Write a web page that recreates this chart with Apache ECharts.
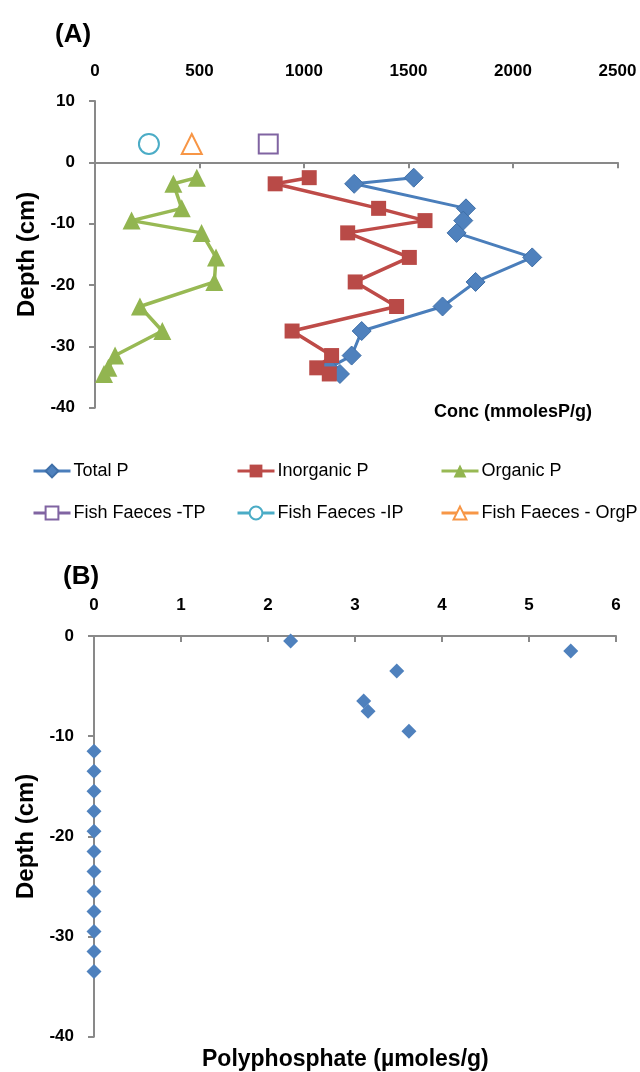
<!DOCTYPE html>
<html>
<head>
<meta charset="utf-8">
<script src="https://cdn.jsdelivr.net/npm/echarts@6/dist/echarts.min.js"></script>
<style>
html,body{margin:0;padding:0;background:#fff;}
#c{width:640px;height:1072px;}
</style>
</head>
<body>
<div id="c"></div>
<script>
// ---- Data: panel (A) ----
var depthA = [-2.5, -3.5, -7.5, -9.5, -11.5, -15.5, -19.5, -23.5, -27.5, -31.5, -33.5, -34.5];
var totalP = [1525, 1240, 1775, 1762, 1730, 2092, 1821, 1663, 1276, 1228, 1120, 1172];
var inorganicP = [1025, 862, 1357, 1579, 1209, 1504, 1245, 1443, 943, 1132, 1061, 1121];
var organicP = [487, 375, 415, 175, 510, 579, 571, 215, 322, 96, 64, 43];
var faecesDepth = 3;
var faecesTP = 829;
var faecesIP = 258;
var faecesOrgP = 463;
var seriesNamesA = ['Total P', 'Inorganic P', 'Organic P', 'Fish Faeces -TP', 'Fish Faeces -IP', 'Fish Faeces - OrgP'];

// ---- Data: panel (B) ----
var depthB = [-0.5, -1.5, -3.5, -6.5, -7.5, -9.5, -11.5, -13.5, -15.5, -17.5, -19.5, -21.5, -23.5, -25.5, -27.5, -29.5, -31.5, -33.5];
var polyP = [2.26, 5.48, 3.48, 3.10, 3.15, 3.62, 0, 0, 0, 0, 0, 0, 0, 0, 0, 0, 0, 0];

function pairs(xs, ys) { return xs.map(function (x, i) { return [x, ys[i]]; }); }
function plain(v) { return String(v); }

var axisGray = '#898989';
var FONT = 'Liberation Sans';
var tickFont = { fontFamily: FONT, fontWeight: 'bold', fontSize: 17, color: '#000', formatter: plain };

var chart = echarts.init(document.getElementById('c'), null, { renderer: 'canvas' });

function legendCol(left, names) {
  return { orient: 'vertical', left: left, top: 462, padding: 0, itemWidth: 37, itemHeight: 16, itemGap: 24,
    data: names, lineStyle: { width: 3 },
    textStyle: { fontFamily: FONT, fontSize: 18, color: '#000', padding: [0, 0, 0, -2] } };
}

var option = {
  animation: false,
  backgroundColor: '#fff',
  title: [
    { text: '(A)', left: 50, top: 17, textStyle: { fontFamily: FONT, fontWeight: 'bold', fontSize: 26, color: '#000' } },
    { text: 'Conc (mmolesP/g)', left: 429, top: 398, textStyle: { fontFamily: FONT, fontWeight: 'bold', fontSize: 18, color: '#000' } },
    { text: '(B)', left: 58, top: 559, textStyle: { fontFamily: FONT, fontWeight: 'bold', fontSize: 26, color: '#000' } },
    { text: 'Polyphosphate (µmoles/g)', left: 197, top: 1043, textStyle: { fontFamily: FONT, fontWeight: 'bold', fontSize: 23, color: '#000' } }
  ],
  legend: [
    legendCol(32, [seriesNamesA[0], seriesNamesA[3]]),
    legendCol(236, [seriesNamesA[1], seriesNamesA[4]]),
    legendCol(440, [seriesNamesA[2], seriesNamesA[5]])
  ],
  grid: [
    { left: 95, top: 101, width: 522.5, height: 306.7, containLabel: false },
    { left: 94, top: 636, width: 522, height: 400.7, containLabel: false }
  ],
  xAxis: [
    { // A: labels on top
      type: 'value', gridIndex: 0, position: 'top', min: 0, max: 2500, interval: 500,
      axisLine: { show: false, onZero: false }, axisTick: { show: false }, splitLine: { show: false },
      axisLabel: Object.assign({ margin: 21 }, tickFont)
    },
    { // A: axis line crossing at depth 0
      type: 'value', gridIndex: 0, position: 'bottom', min: 0, max: 2500, interval: 500,
      axisLine: { show: true, onZero: true, lineStyle: { color: axisGray, width: 2 } },
      axisTick: { show: true, length: 6, lineStyle: { color: axisGray, width: 2 } },
      axisLabel: { show: false }, splitLine: { show: false }
    },
    { // B
      type: 'value', gridIndex: 1, position: 'top', min: 0, max: 6, interval: 1,
      axisLine: { show: true, onZero: false, lineStyle: { color: axisGray, width: 2 } },
      axisTick: { show: true, inside: true, length: 6, lineStyle: { color: axisGray, width: 2 } },
      axisLabel: Object.assign({ margin: 22 }, tickFont), splitLine: { show: false }
    }
  ],
  yAxis: [
    {
      type: 'value', gridIndex: 0, min: -40, max: 10, interval: 10,
      name: 'Depth (cm)', nameLocation: 'middle', nameGap: 56,
      nameTextStyle: { fontFamily: FONT, fontWeight: 'bold', fontSize: 24, color: '#000' },
      axisLine: { show: true, onZero: false, lineStyle: { color: axisGray, width: 2 } },
      axisTick: { show: true, length: 6, lineStyle: { color: axisGray, width: 2 } },
      axisLabel: Object.assign({ margin: 20 }, tickFont), splitLine: { show: false }
    },
    {
      type: 'value', gridIndex: 1, min: -40, max: 0, interval: 10,
      name: 'Depth (cm)', nameLocation: 'middle', nameGap: 55,
      nameTextStyle: { fontFamily: FONT, fontWeight: 'bold', fontSize: 24, color: '#000' },
      axisLine: { show: true, onZero: false, lineStyle: { color: axisGray, width: 2 } },
      axisTick: { show: true, length: 6, lineStyle: { color: axisGray, width: 2 } },
      axisLabel: Object.assign({ margin: 20 }, tickFont), splitLine: { show: false }
    }
  ],
  series: [
    { name: seriesNamesA[0], type: 'line', xAxisIndex: 0, yAxisIndex: 0, data: pairs(totalP, depthA),
      symbol: 'diamond', symbolSize: 19, color: '#4F81BD',
      lineStyle: { color: '#4A7EBB', width: 3 }, itemStyle: { color: '#4F81BD', borderColor: '#3F6FA8', borderWidth: 1 } },
    { name: seriesNamesA[1], type: 'line', xAxisIndex: 0, yAxisIndex: 0, data: pairs(inorganicP, depthA),
      symbol: 'rect', symbolSize: 15, color: '#C0504D',
      lineStyle: { color: '#BE4B48', width: 3.5 }, itemStyle: { color: '#B94A47' } },
    { name: seriesNamesA[2], type: 'line', xAxisIndex: 0, yAxisIndex: 0, data: pairs(organicP, depthA),
      symbol: 'triangle', symbolSize: 18, color: '#9BBB59',
      lineStyle: { color: '#98B954', width: 3.5 }, itemStyle: { color: '#92B550' } },
    { name: seriesNamesA[3], type: 'line', xAxisIndex: 0, yAxisIndex: 0, data: [[faecesTP, faecesDepth]],
      symbol: 'emptyRect', symbolSize: 19, color: '#8064A2',
      lineStyle: { color: '#8064A2', width: 3 }, itemStyle: { color: '#8064A2', borderWidth: 2.5 } },
    { name: seriesNamesA[4], type: 'line', xAxisIndex: 0, yAxisIndex: 0, data: [[faecesIP, faecesDepth]],
      symbol: 'emptyCircle', symbolSize: 20, color: '#4BACC6',
      lineStyle: { color: '#4BACC6', width: 3 }, itemStyle: { color: '#4BACC6', borderWidth: 2.5 } },
    { name: seriesNamesA[5], type: 'line', xAxisIndex: 0, yAxisIndex: 0, data: [[faecesOrgP, faecesDepth]],
      symbol: 'emptyTriangle', symbolSize: 20, color: '#F79646',
      lineStyle: { color: '#F79646', width: 3 }, itemStyle: { color: '#F79646', borderWidth: 2.5 } },
    { name: 'Polyphosphate', type: 'scatter', xAxisIndex: 2, yAxisIndex: 1, data: pairs(polyP, depthB),
      symbol: 'diamond', symbolSize: 15, itemStyle: { color: '#4F81BD', opacity: 1 } }
  ]
};
chart.setOption(option);
</script>
</body>
</html>
